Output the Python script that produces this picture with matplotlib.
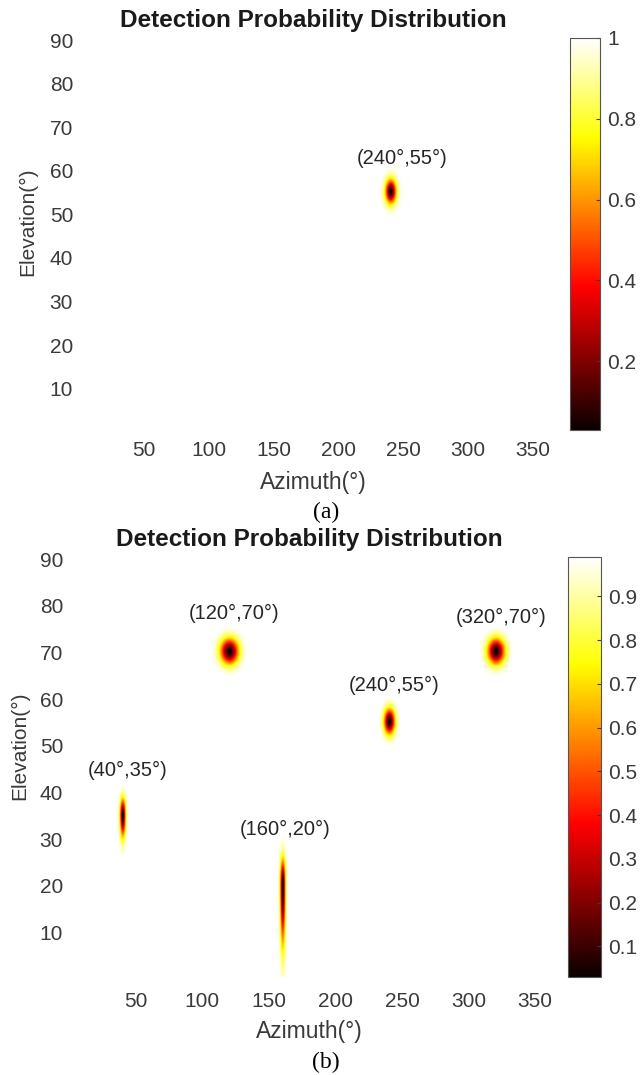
import numpy as np
import matplotlib.pyplot as plt

# target directions (deg) and spread of each detection null
az_targets = [40, 120, 160, 240, 320]
el_targets = [35, 70, 20, 55, 70]
sig_az = [1.5, 4.8, 1.4, 2.9, 4.5]
sig_el_up = [2.4, 1.9, 3.9, 1.9, 1.9]
sig_el_down = [3.2, 1.9, 8.7, 1.9, 1.9]
null_depth = 0.97

# which targets go in each panel
panel_targets = [[3], [0, 1, 2, 3, 4]]
panel_clim_top = [1.0, 0.99]
cbar_ticks = [[0.2, 0.4, 0.6, 0.8, 1.0],
              [0.1, 0.2, 0.3, 0.4, 0.5, 0.6, 0.7, 0.8, 0.9]]
captions = ['(a)', '(b)']

# text offsets for the direction labels (deg)
label_dx = [[9.3], [3.8, 3.5, 2.3, 4.3, 4.8]]
label_dy = [[7.9], [9.8, 8.4, 12.0, 8.0, 7.6]]

az = np.arange(0.5, 360.5, 0.25)
el = np.arange(0.5, 90.5, 0.25)
AZ, EL = np.meshgrid(az, el)


def detection_map(idx):
    z = np.ones_like(AZ)
    for i in idx:
        dx = (AZ - az_targets[i]) / sig_az[i]
        s_el = np.where(EL >= el_targets[i], sig_el_up[i], sig_el_down[i])
        dy = (EL - el_targets[i]) / s_el
        z = np.minimum(z, 1 - null_depth * np.exp(-0.5 * (dx ** 2 + dy ** 2)))
    return z


txt_col = '#3a3a3a'
plt.rcParams['font.family'] = ['Liberation Sans', 'DejaVu Sans']

fig = plt.figure(figsize=(6.41, 10.75), dpi=100)

# [left, bottom, width, height] for axes and colorbars
ax_pos = [[0.1248, 0.600, 0.727, 0.3647], [0.1092, 0.0912, 0.7473, 0.3907]]
cb_pos = [[0.8892, 0.600, 0.0468, 0.3647], [0.8861, 0.0912, 0.0515, 0.3907]]
xtick_pad = [8, 11]
caption_y = [1 - 512 / 1075, 1 - 1062 / 1075]
xlabel_y = [-0.133, -0.131]
ylabel_xy = [(-0.112, 0.53), (-0.104, 0.55)]

for p in range(2):
    ax = fig.add_axes(ax_pos[p])
    cax = fig.add_axes(cb_pos[p])
    z = detection_map(panel_targets[p])
    im = ax.imshow(z, origin='lower', extent=[0.5, 360.5, 0.5, 90.5],
                   aspect='auto', cmap='hot', interpolation='bilinear',
                   vmin=z.min(), vmax=panel_clim_top[p])

    ax.set_xticks(np.arange(50, 351, 50))
    ax.set_yticks(np.arange(10, 91, 10))
    for s in ax.spines.values():
        s.set_visible(False)
    ax.tick_params(axis='both', length=0, labelsize=15, colors=txt_col)
    ax.tick_params(axis='x', pad=xtick_pad[p])
    ax.tick_params(axis='y', pad=5)

    ax.set_title('Detection Probability Distribution', fontsize=17.5,
                 fontweight='bold', color='#1a1a1a', pad=8)
    ax.set_xlabel('Azimuth(°)', fontsize=16.5, color=txt_col)
    ax.xaxis.set_label_coords(0.5, xlabel_y[p])
    ax.xaxis.label.set_va('center')
    ax.set_ylabel('Elevation(°)', fontsize=15, color=txt_col)
    ax.yaxis.set_label_coords(*ylabel_xy[p])
    ax.yaxis.label.set_va('center')

    for k, i in enumerate(panel_targets[p]):
        ax.text(az_targets[i] + label_dx[p][k], el_targets[i] + label_dy[p][k],
                f'({az_targets[i]}°,{el_targets[i]}°)', fontsize=14.5,
                color='#262626', ha='center', va='center')

    cb = fig.colorbar(im, cax=cax)
    cb.set_ticks(cbar_ticks[p])
    cb.set_ticklabels([f'{v:g}' for v in cbar_ticks[p]])
    cb.outline.set_edgecolor('#555555')
    cb.outline.set_linewidth(0.8)
    cax.tick_params(direction='in', length=3, width=0.8, labelsize=15,
                    colors=txt_col, pad=5)

    fig.text(0.508, caption_y[p], captions[p], fontsize=17,
             family=['Liberation Serif', 'DejaVu Serif'], color='black',
             ha='center', va='center')

fig.savefig('out.png', dpi=100)
